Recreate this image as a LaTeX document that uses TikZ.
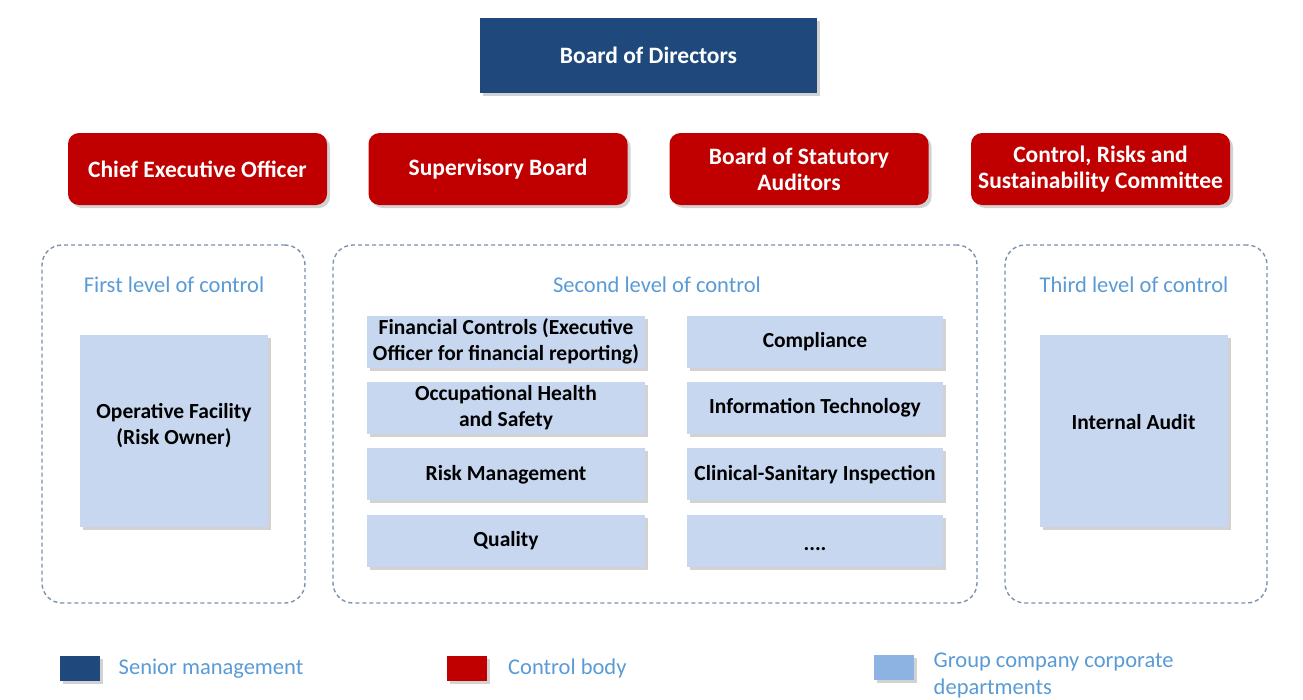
\documentclass[tikz,border=0pt]{standalone}
\usepackage{fontspec}
\setmainfont{Carlito}
\usetikzlibrary{positioning,shadows}
\definecolor{seniorblue}{RGB}{31,73,125}
\definecolor{controlred}{RGB}{192,0,0}
\definecolor{deptblue}{RGB}{198,215,239}
\definecolor{legendblue}{RGB}{141,179,226}
\definecolor{titleblue}{RGB}{91,155,213}
\definecolor{framegray}{RGB}{125,145,175}
\newcommand\redw{259pt}
\newcommand\redh{72pt}
\newcommand\colh{52pt}
\newcommand\colgap{14pt}
\tikzset{
  box shadow/.style={drop shadow={shadow xshift=3pt,shadow yshift=-3pt,opacity=0.35}},
  senior/.style={fill=seniorblue,text=white,box shadow,inner sep=0pt,
    minimum width=337pt,minimum height=75pt,font=\fontsize{23.5}{26}\selectfont\bfseries},
  controlbody/.style={fill=controlred,text=white,rounded corners=11pt,box shadow,inner sep=0pt,
    align=center,minimum width=\redw,minimum height=\redh,font=\fontsize{23.5}{26}\selectfont\bfseries},
  levelframe/.style={draw=framegray,line width=1.4pt,dash pattern=on 4pt off 3pt,
    rounded corners=20pt,inner sep=0pt,minimum height=358pt},
  leveltitle/.style={text=titleblue,font=\fontsize{22.5}{26}\selectfont},
  dept/.style={fill=deptblue,box shadow,inner sep=0pt,align=center,
    minimum height=\colh,font=\fontsize{21.5}{26}\selectfont\bfseries},
  legendkey/.style={box shadow,inner sep=0pt,minimum width=40pt,minimum height=25pt},
  legendtext/.style={anchor=west,text=titleblue,align=left,font=\fontsize{22.5}{27}\selectfont},
}
\begin{document}
\begin{tikzpicture}[x=1pt,y=-1pt]
  \useasboundingbox[fill=white] (0,0) rectangle (1303,699);
  % senior management
  \node[senior] (bod) at (648.5,55.5) {Board of Directors};
  % control bodies
  \node[controlbody] (ceo) at (197.5,169) {Chief Executive Officer};
  \node[controlbody] (sb) at (498,169) {Supervisory Board};
  \node[controlbody] (bsa) at (799,169) {Board of Statutory\\Auditors};
  \node[controlbody] (crsc) at (1100.5,169) {Control, Risks and\\Sustainability Committee};
  % levels of control
  \node[levelframe,minimum width=263pt] (first) at (173.5,424) {};
  \node[levelframe,minimum width=644pt] (second) at (655,424) {};
  \node[levelframe,minimum width=262pt] (third) at (1136,424) {};
  \node[leveltitle] (firstt) at (174,285) {First level of control};
  \node[leveltitle] (secondt) at (657,285) {Second level of control};
  \node[leveltitle] (thirdt) at (1134,285) {Third level of control};
  % departments
  \node[dept,minimum width=188pt,minimum height=192pt,text depth=15pt] (opf) at (174,431) {Operative Facility\\(Risk Owner)};
  \node[dept,minimum width=278pt] (fin) at (506,341.5) {Financial Controls (Executive\\Officer for financial reporting)};
  \node[dept,minimum width=278pt,below=\colgap of fin] (ohs) {Occupational Health\\and Safety};
  \node[dept,minimum width=278pt,below=\colgap of ohs] (risk) {Risk Management};
  \node[dept,minimum width=278pt,below=\colgap of risk] (qual) {Quality};
  \node[dept,minimum width=256pt] (comp) at (815,341.5) {Compliance};
  \node[dept,minimum width=256pt,below=\colgap of comp] (it) {Information Technology};
  \node[dept,minimum width=256pt,below=\colgap of it] (clin) {Clinical-Sanitary Inspection};
  \node[dept,minimum width=256pt,below=\colgap of clin,text height=20pt,text depth=0pt] (more) {....};
  \node[dept,minimum width=188pt,minimum height=192pt,text depth=19pt] (ia) at (1133.5,431) {Internal Audit};
  % legend
  \node[legendkey,fill=seniorblue] (keysm) at (80,668.5) {};
  \node[legendtext,right=15pt of keysm] (txtsm) {Senior management};
  \node[legendkey,fill=controlred] (keycb) at (466.5,668) {};
  \node[legendtext,right=18pt of keycb] (txtcb) {Control body};
  \node[legendkey,fill=legendblue] (keygc) at (894,667.5) {};
  \node[legendtext,right=16pt of keygc,yshift=-8pt] (txtgc) {Group company corporate\\departments};
\end{tikzpicture}
\end{document}
